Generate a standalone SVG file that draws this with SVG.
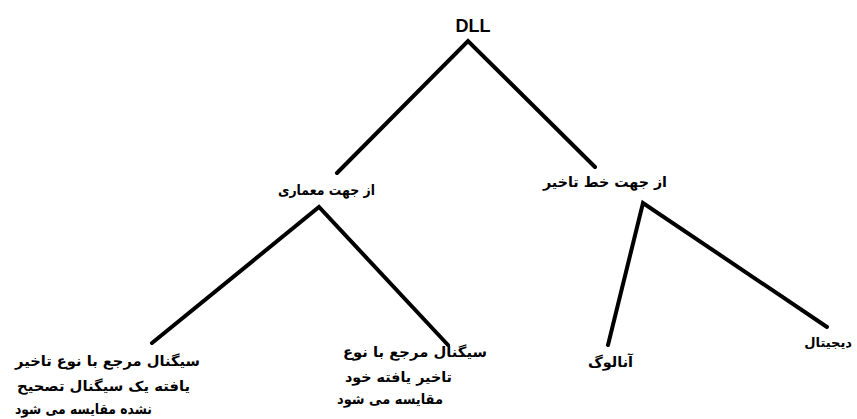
<svg xmlns="http://www.w3.org/2000/svg" width="857" height="419" viewBox="0 0 857 419">
<style>
.fa{font-family:"DejaVu Sans","Noto Sans",sans-serif;font-weight:bold;font-size:14px;fill:#000;direction:rtl}
.en{font-family:"Liberation Sans",Arial,sans-serif;font-weight:bold;font-size:18px;fill:#000}
.ln{stroke:#000;stroke-width:4;fill:none;stroke-linecap:round;stroke-linejoin:miter}
</style>
<rect width="857" height="419" fill="#fff"/>
<g id="connectors">
<polyline class="ln" points="337,173 468,41 595,167"/>
<polyline class="ln" points="152,343 319,207 448,345"/>
<polyline class="ln" points="608,345 643,203 827,327"/>
</g>
<g id="dll"><text class="en" x="473" y="32" text-anchor="middle">DLL</text></g>
<g id="arch"><text class="fa" x="375" y="195" text-anchor="start" textLength="97" lengthAdjust="spacingAndGlyphs">از جهت معماری</text></g>
<g id="delayline"><text class="fa" x="667" y="187" text-anchor="start" textLength="124" lengthAdjust="spacingAndGlyphs">از جهت خط تاخیر</text></g>
<g id="left-leaf">
<text class="fa" x="200" y="366" text-anchor="start" textLength="185" lengthAdjust="spacingAndGlyphs">سیگنال مرجع با نوع تاخیر</text>
<text class="fa" x="190" y="391" text-anchor="start" textLength="173" lengthAdjust="spacingAndGlyphs">یافته یک سیگنال تصحیح</text>
<text class="fa" x="152" y="414" text-anchor="start" textLength="137" lengthAdjust="spacingAndGlyphs">نشده مقایسه می شود</text>
</g>
<g id="right-leaf">
<text class="fa" x="487" y="357" text-anchor="start" textLength="144" lengthAdjust="spacingAndGlyphs">سیگنال مرجع با نوع</text>
<text class="fa" x="452" y="382" text-anchor="start" textLength="107" lengthAdjust="spacingAndGlyphs">تاخیر یافته خود</text>
<text class="fa" x="443" y="404" text-anchor="start" textLength="106" lengthAdjust="spacingAndGlyphs">مقایسه می شود</text>
</g>
<g id="analog"><text class="fa" x="633" y="367" text-anchor="start" textLength="45" lengthAdjust="spacingAndGlyphs">آنالوگ</text></g>
<g id="digital"><text x="852" y="347" text-anchor="end" style="font-family:'DejaVu Sans','Noto Sans',sans-serif;font-weight:bold;font-size:13px;fill:#000">دیجیتال</text></g>
</svg>
